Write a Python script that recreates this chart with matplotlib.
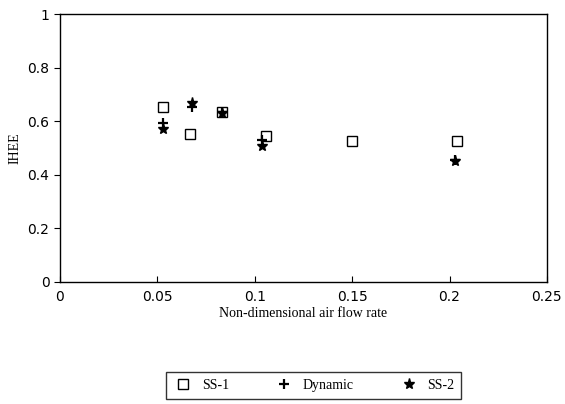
import matplotlib.pyplot as plt

# data
x_ss1 = [0.053, 0.067, 0.083, 0.106, 0.150, 0.204]
y_ss1 = [0.652, 0.553, 0.636, 0.546, 0.527, 0.527]

x_dyn = [0.053, 0.068, 0.083, 0.104, 0.203]
y_dyn = [0.594, 0.655, 0.636, 0.530, 0.455]

x_ss2 = [0.053, 0.068, 0.083, 0.104, 0.203]
y_ss2 = [0.570, 0.670, 0.630, 0.508, 0.450]

xticks = [0, 0.05, 0.1, 0.15, 0.2, 0.25]
xticklabels = ["0", "0.05", "0.1", "0.15", "0.2", "0.25"]
yticks = [0, 0.2, 0.4, 0.6, 0.8, 1]
yticklabels = ["0", "0.2", "0.4", "0.6", "0.8", "1"]

fig = plt.figure(figsize=(5.65, 4.04), dpi=100)
ax = fig.add_axes([0.106, 0.302, 0.862, 0.663])

ax.plot(x_ss1, y_ss1, ls="none", marker="s", ms=6.5, mfc="white", mec="black", mew=1.0, label="SS-1")
ax.plot(x_dyn, y_dyn, ls="none", marker="+", ms=7, mec="black", mew=1.6, label="Dynamic")
ax.plot(x_ss2, y_ss2, ls="none", marker="*", ms=8, mfc="black", mec="black", label="SS-2")

ax.set_xlim(0, 0.25)
ax.set_ylim(0, 1)
ax.set_xticks(xticks)
ax.set_xticklabels(xticklabels)
ax.set_yticks(yticks)
ax.set_yticklabels(yticklabels)
ax.tick_params(axis="x", direction="in", length=4, labelsize=10, pad=6)
ax.tick_params(axis="y", direction="out", length=4, labelsize=10)
for s in ax.spines.values():
    s.set_linewidth(1.0)

ax.set_xlabel("Non-dimensional air flow rate", family="Liberation Serif", fontsize=10, labelpad=2)
ax.set_ylabel("IHEE", family="Liberation Serif", fontsize=10, labelpad=4)

leg = fig.legend(loc="center", bbox_to_anchor=(0.555, 0.045), ncol=3, frameon=True, fancybox=False,
                 edgecolor="black", handlelength=1.5, handletextpad=0.6, columnspacing=3.2,
                 borderpad=0.5, borderaxespad=0,
                 prop={"family": "Liberation Serif", "size": 10})
leg.get_frame().set_linewidth(1.0)

fig.savefig("out.png", dpi=100)
